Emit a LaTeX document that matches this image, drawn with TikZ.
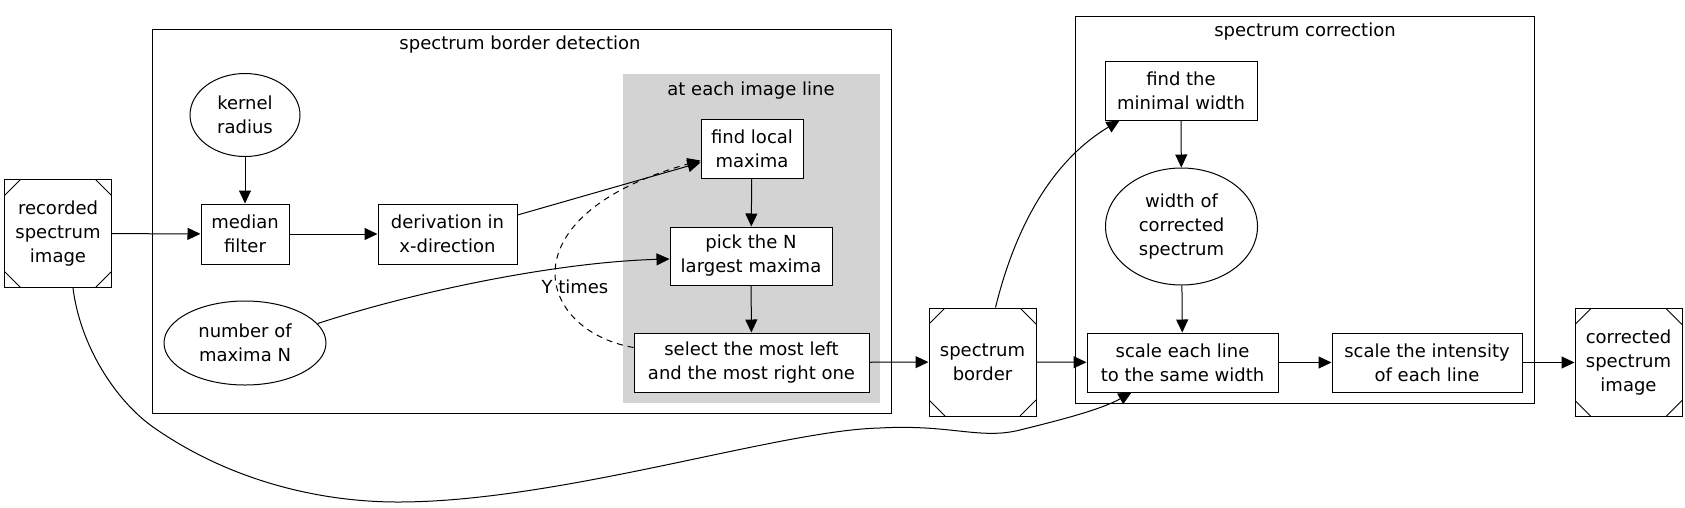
\documentclass[tikz,border=0pt]{standalone}
\usepackage{fontspec}
\setmainfont{DejaVu Sans}
\usetikzlibrary{arrows.meta,shapes.geometric}
\definecolor{lgray}{HTML}{D3D3D3}
\begin{document}
\begin{tikzpicture}[x=1pt,y=-1pt,line width=1pt,
		font=\fontsize{18}{24}\selectfont,
		edge/.style={-{Triangle[length=13pt,width=12pt]}},
		box/.style={draw,rectangle,fill=white,align=center,inner sep=0pt},
		oval/.style={draw,ellipse,fill=white,align=center,inner sep=0pt},
		msq/.style={box,minimum width=107pt,minimum height=108pt,path picture={
			\draw ([yshift=-16pt]path picture bounding box.north west) to ([xshift=16pt]path picture bounding box.north west);
			\draw ([yshift=-16pt]path picture bounding box.north east) to ([xshift=-16pt]path picture bounding box.north east);
			\draw ([yshift=16pt]path picture bounding box.south west) to ([xshift=16pt]path picture bounding box.south west);
			\draw ([yshift=16pt]path picture bounding box.south east) to ([xshift=-16pt]path picture bounding box.south east);}}]
		\useasboundingbox (0,0) rectangle (1685,507);
		\draw (152,29) rectangle (891,413);
		\fill[lgray] (623,74) rectangle (880,403);
		\draw (1075,16) rectangle (1534,403);
		\node (ttlA) at (520,45) {spectrum border detection};
		\node (ttlB) at (751,91) {at each image line};
		\node (ttlC) at (1305,32) {spectrum correction};
		\node[msq] (rec) at (58,233.5) {recorded\\spectrum\\image};
		\node[oval,minimum width=110pt,minimum height=83pt] (ker) at (245,115) {kernel\\radius};
		\node[box,minimum width=88pt,minimum height=60pt] (med) at (245,234) {median\\filter};
		\node[box,minimum width=139pt,minimum height=60pt] (der) at (447.5,234) {derivation in\\x-direction};
		\node[oval,minimum width=162pt,minimum height=84pt] (num) at (245,343) {number of\\maxima N};
		\node[box,minimum width=102pt,minimum height=59pt] (fl) at (752,148.5) {find local\\maxima};
		\node[box,minimum width=162pt,minimum height=58pt] (pn) at (751,256) {pick the N\\largest maxima};
		\node[box,minimum width=235pt,minimum height=59pt] (sel) at (751.5,362.5) {select the most left\\and the most right one};
		\node[msq] (sb) at (982.5,362) {spectrum\\border};
		\node[box,minimum width=152pt,minimum height=59pt] (fm) at (1181,90.5) {find the\\minimal width};
		\node[oval,minimum width=152pt,minimum height=117pt] (wc) at (1181.5,226.5) {width of\\corrected\\spectrum};
		\node[box,minimum width=191pt,minimum height=59pt] (sl) at (1182.5,362.5) {scale each line\\to the same width};
		\node[box,minimum width=190pt,minimum height=59pt] (si) at (1427,362.5) {scale the intensity\\of each line};
		\node[msq] (cor) at (1628.5,362.5) {corrected\\spectrum\\image};
		\node (ytm) at (575,287) {Y times};
		\draw[edge] (rec) to (med);
		\draw[edge] (ker) to (med);
		\draw[edge] (med) to (der);
		\draw[edge] ([yshift=19pt]der.east) to ([yshift=-14pt]fl.west);
		\draw[edge] (num.15) .. controls (420,290) and (560,262) .. ([yshift=-3pt]pn.west);
		\draw[edge] (fl) to (pn);
		\draw[edge] (pn) to (sel);
		\draw[edge,dash pattern=on 6pt off 5pt] ([yshift=15pt]sel.west) .. controls (535,330) and (505,215) .. ([yshift=-12pt]fl.west);
		\draw[edge] (sel) to (sb);
		\draw[edge] (sb) to (sl);
		\draw[edge] ([xshift=13pt]sb.north) .. controls (1012,240) and (1045,165) .. ([xshift=15pt]fm.south west);
		\draw[edge] (fm) to (wc);
		\draw[edge] (wc) to (sl);
		\draw[edge] (sl) to (si);
		\draw[edge] (si) to (cor);
		\draw[edge] ([xshift=15pt]rec.south) .. controls (80,345) and (115,400) .. (153,427)
			.. controls (230,481) and (320,502) .. (398,502)
			.. controls (560,502) and (780,430) .. (880,428)
			.. controls (950,424) and (980,440) .. (1020,430)
			.. controls (1060,420) and (1100,410) .. ([xshift=-51pt]sl.south);
	\end{tikzpicture}
\end{document}
